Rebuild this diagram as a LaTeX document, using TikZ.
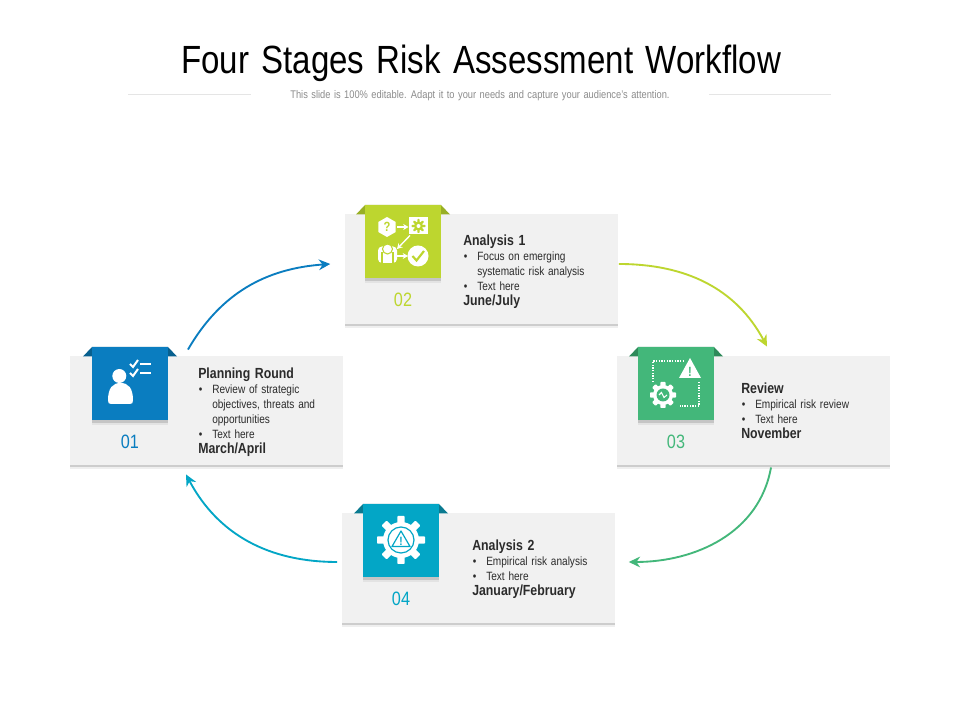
\documentclass[tikz,border=0pt]{standalone}
\usepackage{fontspec}
\setsansfont[FakeStretch=0.84, WordSpace=1.35]{Liberation Sans}
\usepackage{xcolor}
\definecolor{StageBlue}{HTML}{0A7DC0}
\definecolor{StageBlueDark}{HTML}{07608F}
\definecolor{StageLime}{HTML}{BDD62F}
\definecolor{StageLimeDark}{HTML}{98AF25}
\definecolor{StageGreen}{HTML}{43B77A}
\definecolor{StageGreenDark}{HTML}{2E8A5A}
\definecolor{StageTeal}{HTML}{03A6C6}
\definecolor{StageTealDark}{HTML}{0A7A90}
\definecolor{CardGrey}{HTML}{F1F1F1}
\definecolor{InkDark}{HTML}{2B2B2B}
\usepackage{tikz}
\usetikzlibrary{arrows.meta, positioning, calc, shadows}
\tikzset{
  % Box styles
  softshadow/.style={drop shadow={shadow xshift=0pt, shadow yshift=-#1*2, opacity=0.12}, drop shadow={shadow xshift=0pt, shadow yshift=-#1, opacity=0.3}},
  cardbox/.style={rectangle, fill=CardGrey, minimum width=204.75pt, minimum height=82pt, inner sep=0pt, softshadow=1.5pt},
  tilebox/.style={rectangle, minimum width=57pt, minimum height=55pt, inner sep=0pt, softshadow=2pt},
  % Text styles
  titletext/.style={font=\sffamily\fontsize{29.5}{32}\selectfont, text=black, inner sep=0pt},
  subtitletext/.style={font=\sffamily\fontsize{8.3}{10}\selectfont, text=black!45, inner sep=0pt},
  numtext/.style={font=\sffamily\fontsize{14.5}{16}\selectfont, inner sep=0pt},
  infotext/.style={font=\sffamily\fontsize{9}{11.2}\selectfont, text=InkDark, align=left, anchor=west, inner sep=0pt},
  marktext/.style={font=\sffamily\bfseries\fontsize{#1}{#1}\selectfont, inner sep=0pt},
  % Line styles
  flowarrow/.style={-{Stealth[length=8.5pt,width=8pt]}, line width=1.4pt, #1},
  hairrule/.style={draw=black!10, line width=0.5pt},
  iconarrow/.style={-{Stealth[length=4pt,width=4.5pt]}, white, line width=1pt}
}
% one heading line and the bullet lines of a card
\newcommand{\headline}[1]{{\bfseries\fontsize{11}{12}\selectfont #1}}
\newcommand{\bulletline}[1]{\makebox[10.5pt][l]{\hspace*{0.5pt}•}#1}
\newcommand{\moreline}[1]{\hspace*{10.5pt}#1}
% gear at a point: centre, body radius, tooth radius, tooth half width, colour
\newcommand{\geardraw}[5]{
  \fill[#5] (#1) circle (#2);
  \foreach \a in {0,45,...,315}
    \fill[#5, shift={(#1)}, rotate=\a, rounded corners=0.6pt] (-#4,0) rectangle (#4,#3);
}

\begin{document}
\begin{tikzpicture}[x=0.75pt, y=0.75pt]
  \useasboundingbox (0,0) rectangle (960,720);
  \fill[white] (0,0) rectangle (960,720);

  % title
  \node[titletext] (title) at (481,657) {Four Stages Risk Assessment Workflow};
  \node[subtitletext] (subtitle) at (480,624.5) {This slide is 100\% editable. Adapt it to your needs and capture your audience's attention.};
  \draw[hairrule] (128,626) -- (251,626);
  \draw[hairrule] (709,626) -- (831,626);

  % cards
  \node[cardbox] (card1) at (206.5,309.5) {};
  \node[cardbox] (card2) at (481,451) {};
  \node[cardbox] (card3) at (753.5,309.5) {};
  \node[cardbox] (card4) at (478,152) {};

  % ears behind the tiles
  \foreach \cx/\cy/\ear in {130/336.5/StageBlueDark, 403/478.5/StageLimeDark, 676/336.5/StageGreenDark, 401/179.5/StageTealDark}
    \fill[\ear] (\cx-47,\cy+27) -- (\cx-38,\cy+36.5) -- (\cx+38,\cy+36.5) -- (\cx+47,\cy+27) -- cycle;

  % tiles
  \node[tilebox, fill=StageBlue] (tile1) at (130,336.5) {};
  \node[tilebox, fill=StageLime] (tile2) at (403,478.5) {};
  \node[tilebox, fill=StageGreen] (tile3) at (676,336.5) {};
  \node[tilebox, fill=StageTeal] (tile4) at (401,179.5) {};

  % numbers
  \node[numtext, text=StageBlue, below=10.5pt of tile1] (num1) {01};
  \node[numtext, text=StageLime, below=10.5pt of tile2] (num2) {02};
  \node[numtext, text=StageGreen, below=10.5pt of tile3] (num3) {03};
  \node[numtext, text=StageTeal, below=10.5pt of tile4] (num4) {04};

  % card texts
  \node[infotext] (info1) at (198,308) {\headline{Planning Round}\\ \bulletline{Review of strategic}\\ \moreline{objectives, threats and}\\ \moreline{opportunities}\\ \bulletline{Text here}\\ \headline{March/April}};
  \node[infotext] (info2) at (463,448) {\headline{Analysis 1}\\ \bulletline{Focus on emerging}\\ \moreline{systematic risk analysis}\\ \bulletline{Text here}\\ \headline{June/July}};
  \node[infotext] (info3) at (741,309) {\headline{Review}\\ \bulletline{Empirical risk review}\\ \bulletline{Text here}\\ \headline{November}};
  \node[infotext] (info4) at (472,150.5) {\headline{Analysis 2}\\ \bulletline{Empirical risk analysis}\\ \bulletline{Text here}\\ \headline{January/February}};

  % flow
  \draw[flowarrow=StageBlue] ([shift={(-18.5,6)}]card1.north) to[out=60, in=184] ([shift={(-14,5)}]card2.west);
  \draw[flowarrow=StageLime] ([shift={(1,5)}]card2.east) to[out=0, in=118] ([shift={(13.5,9)}]card3.north);
  \draw[flowarrow=StageGreen] ([shift={(17.5,-2)}]card3.south) to[out=-100, in=0] ([shift={(14,6)}]card4.east);
  \draw[flowarrow=StageTeal] ([shift={(-4,6)}]card4.west) to[out=180, in=-62] ([shift={(-20.5,-9)}]card1.south);

  % icon 1: person and checklist
  \begin{scope}[shift={(tile1.center)}]
    \fill[white] (-10.7,7.5) circle (7);
    \fill[white] (-22,-17) .. controls (-22,-4) and (-17,0.5) .. (-9.5,0.5) .. controls (-2,0.5) and (3,-4) .. (3,-17) .. controls (3,-19.5) and (2,-20.5) .. (0,-20.5) -- (-19,-20.5) .. controls (-21,-20.5) and (-22,-19.5) .. (-22,-17) -- cycle;
    \foreach \ly in {19.5,10.5} {
      \draw[white, line width=1.5pt] (10,\ly) -- (21,\ly);
      \draw[white, line width=1.5pt] (0,\ly) -- (3,\ly-3) -- (8,\ly+4);
    }
  \end{scope}

  % icon 2: question, gear, person, check
  \begin{scope}[shift={(tile2.center)}]
    \fill[white] (-16,24.5) -- (-7.3,19.5) -- (-7.3,9.5) -- (-16,4.5) -- (-24.7,9.5) -- (-24.7,19.5) -- cycle;
    \node[marktext=10, text=StageLime] (ask2) at (-16,14.5) {?};
    \draw[iconarrow] (-6,14.5) -- (5.5,14.5);
    \fill[white] (6,7) rectangle (25,24);
    \geardraw{15.5,15.5}{4.5}{7}{1.2}{StageLime}
    \fill[white] (15.5,15.5) circle (2);
    \draw[iconarrow] (7,6) -- (-6,-7.5);
    \fill[white, rounded corners=3pt] (-25,-21.5) -- (-25,-5) -- (-6,-5) -- (-6,-21.5) -- cycle;
    \fill[white] (-15.5,-7.5) circle (5);
    \draw[StageLime, line width=0.8pt] (-15.5,-7.5) circle (5);
    \draw[StageLime, line width=0.8pt] (-21,-21.5) -- (-21,-11);
    \draw[StageLime, line width=0.8pt] (-10,-21.5) -- (-10,-11);
    \draw[iconarrow] (-6,-14.5) -- (5,-14.5);
    \fill[white] (15,-14.5) circle (10.5);
    \draw[StageLime, line width=1.6pt] (9.5,-14.5) -- (13.5,-19) -- (21,-9.5);
  \end{scope}

  % icon 3: warning, gear, dotted frame
  \begin{scope}[shift={(tile3.center)}]
    \draw[white, line width=1pt, densely dotted] (-23,1.5) -- (-23,22.5) -- (7,22.5);
    \draw[white, line width=1pt, densely dotted] (23,1.5) -- (23,-22.5) -- (4,-22.5);
    \fill[white] (3,5.5) -- (25,5.5) -- (14,25.5) -- cycle;
    \node[marktext=10, text=StageGreen] (warn3) at (14,12) {!};
    \geardraw{-13,-11.5}{10}{13}{2.6}{white}
    \fill[StageGreen] (-13,-11.5) circle (6.5);
    \draw[white, line width=0.8pt] (-17,-11.5) -- (-14.5,-9) -- (-12,-14) -- (-9,-11.5);
  \end{scope}

  % icon 4: gear with warning
  \begin{scope}[shift={(tile4.center)}]
    \geardraw{0,0.5}{18}{24}{3.6}{white}
    \draw[StageTeal, line width=0.9pt] (0,0.5) circle (13);
    \draw[StageTeal, line width=0.9pt, line join=round] (-9,-6) -- (9,-6) -- (0,9.5) -- cycle;
    \node[marktext=9, text=StageTeal] (warn4) at (0,-0.5) {!};
  \end{scope}
\end{tikzpicture}
\end{document}
